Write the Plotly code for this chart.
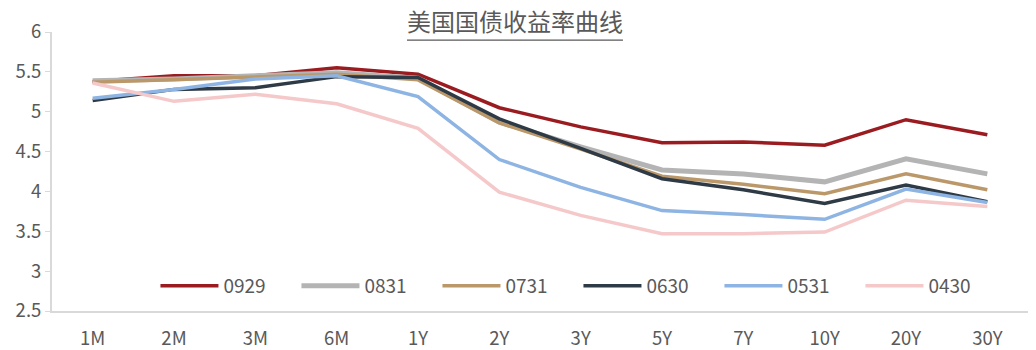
import plotly.graph_objects as go

categories = ["1M", "2M", "3M", "6M", "1Y", "2Y", "3Y", "5Y", "7Y", "10Y", "20Y", "30Y"]
series_names = ["0929", "0831", "0731", "0630", "0531", "0430"]
y_0929 = [5.38, 5.45, 5.45, 5.55, 5.47, 5.05, 4.81, 4.61, 4.62, 4.58, 4.90, 4.71]
y_0831 = [5.39, 5.41, 5.45, 5.49, 5.42, 4.87, 4.56, 4.27, 4.22, 4.12, 4.41, 4.22]
y_0731 = [5.37, 5.40, 5.43, 5.47, 5.40, 4.86, 4.53, 4.19, 4.09, 3.97, 4.22, 4.02]
y_0630 = [5.14, 5.28, 5.30, 5.44, 5.43, 4.91, 4.54, 4.16, 4.02, 3.85, 4.08, 3.87]
y_0531 = [5.17, 5.28, 5.41, 5.45, 5.19, 4.40, 4.05, 3.76, 3.71, 3.65, 4.03, 3.86]
y_0430 = [5.36, 5.13, 5.22, 5.10, 4.79, 3.99, 3.70, 3.47, 3.47, 3.49, 3.89, 3.81]
series_values = [y_0929, y_0831, y_0731, y_0630, y_0531, y_0430]
y_ticks = [2.5, 3, 3.5, 4, 4.5, 5, 5.5, 6]
title_text = "美国国债收益率曲线"

colors = ["#9b1c20", "#b4b4b4", "#bb986a", "#2e3a45", "#8db4e2", "#f5c8c9"]
widths = [3.5, 5, 3.5, 3.5, 3.5, 3.5]

FONT = "Noto Sans CJK SC, Noto Sans, sans-serif"
GREY = "#595959"

fig = go.Figure()
for name, vals, c, w in zip(series_names, series_values, colors, widths):
    fig.add_trace(go.Scatter(x=categories, y=vals, name=name, mode="lines",
                             line=dict(color=c, width=w)))

fig.update_layout(
    width=1036, height=350,
    margin=dict(l=52, r=8, t=32, b=39, autoexpand=False),
    paper_bgcolor="white", plot_bgcolor="white",
    font=dict(family=FONT, color=GREY, size=18),
    title=dict(text=title_text, x=0.497, xanchor="center", y=0.935, yanchor="middle",
               font=dict(size=24, color=GREY, family=FONT)),
    showlegend=True,
    legend=dict(orientation="h", x=0.106, xanchor="left", y=0.09, yanchor="middle",
                font=dict(size=19, color=GREY, family=FONT),
                bgcolor="rgba(0,0,0,0)", entrywidth=68, entrywidthmode="pixels",
                itemwidth=58, traceorder="normal"),
    xaxis=dict(type="category", range=[-0.5, 11.5], showline=True, linecolor="#d9d9d9",
               linewidth=2, showgrid=False, ticks="", tickfont=dict(size=18.5, color=GREY),
               ticklabelstandoff=10, zeroline=False, automargin=False),
    yaxis=dict(range=[2.5, 6], tickvals=y_ticks,
               ticktext=[str(v) if v != int(v) else str(int(v)) for v in y_ticks],
               showline=True, linecolor="#d9d9d9", linewidth=2, showgrid=False,
               ticks="outside", ticklen=5, tickcolor="#d9d9d9", tickwidth=1,
               tickfont=dict(size=18.5, color=GREY), zeroline=False, automargin=False),
    shapes=[dict(type="line", xref="paper", yref="paper", x0=0.3637, x1=0.585,
                 y0=0.971, y1=0.971, line=dict(color=GREY, width=1.2))],
)

fig.write_html("out.html")
